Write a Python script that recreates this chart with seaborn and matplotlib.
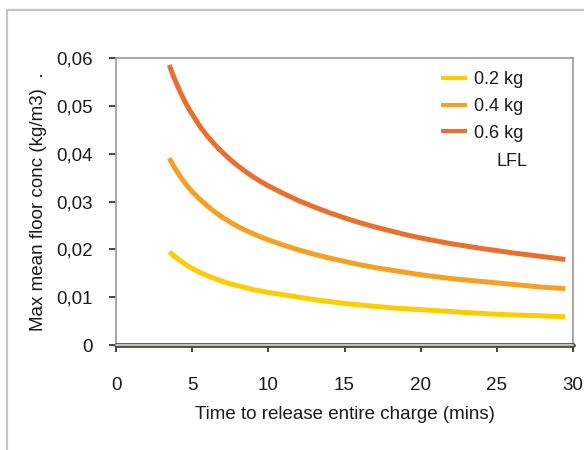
import matplotlib
matplotlib.use("Agg")
import matplotlib.pyplot as plt
import pandas as pd
import seaborn as sns
from matplotlib.patches import Rectangle

# Release time (minutes) and resulting max mean floor concentration (kg/m3)
release_time = [3.5, 3.75, 4.0, 4.25, 4.5, 4.75, 5.0, 5.5, 6.0, 6.5, 7.0, 7.5,
                8.0, 8.5, 9.0, 9.5, 10.0, 11.0, 12.0, 13.0, 14.0, 15.0, 16.0,
                17.0, 18.0, 19.0, 20.0, 22.0, 24.0, 26.0, 28.0, 29.5]
conc_02kg = [0.0195, 0.0188, 0.0182, 0.0176, 0.0170, 0.0165, 0.0160, 0.0152,
             0.0145, 0.0139, 0.0133, 0.0128, 0.0124, 0.0120, 0.0116, 0.0113,
             0.0110, 0.0105, 0.0100, 0.0095, 0.0091, 0.0087, 0.0084, 0.0081,
             0.0078, 0.0076, 0.0074, 0.0070, 0.0066, 0.0063, 0.0061, 0.0059]
conc_04kg = [0.0391, 0.0376, 0.0363, 0.0351, 0.0340, 0.0330, 0.0321, 0.0305,
             0.0291, 0.0278, 0.0267, 0.0257, 0.0248, 0.0240, 0.0233, 0.0226,
             0.0220, 0.0209, 0.0199, 0.0190, 0.0182, 0.0175, 0.0168, 0.0162,
             0.0157, 0.0152, 0.0147, 0.0139, 0.0133, 0.0127, 0.0121, 0.0118]
conc_06kg = [0.0586, 0.0564, 0.0545, 0.0527, 0.0511, 0.0496, 0.0483, 0.0458,
             0.0437, 0.0419, 0.0403, 0.0388, 0.0375, 0.0363, 0.0352, 0.0342,
             0.0333, 0.0317, 0.0302, 0.0289, 0.0277, 0.0266, 0.0256, 0.0247,
             0.0239, 0.0231, 0.0224, 0.0212, 0.0202, 0.0193, 0.0185, 0.0179]
series_labels = ["0.2 kg", "0.4 kg", "0.6 kg"]
series_colors = ["#FFCC00", "#F5A023", "#E8702C"]
x_ticks = [0, 5, 10, 15, 20, 25, 30]
y_ticks = [0, 0.01, 0.02, 0.03, 0.04, 0.05, 0.06]
y_tick_labels = ["0", "0,01", "0,02", "0,03", "0,04", "0,05", "0,06"]

df = pd.concat([
    pd.DataFrame({"time": release_time, "conc": vals, "charge": lab})
    for vals, lab in zip([conc_02kg, conc_04kg, conc_06kg], series_labels)
])

sns.set_style("white")
plt.rcParams["font.family"] = ["Liberation Sans", "DejaVu Sans"]

fig = plt.figure(figsize=(5.84, 4.5), dpi=100)
ax = fig.add_axes([116 / 584, 1 - 345 / 450, (573 - 116) / 584, (345 - 58.3) / 450])

# outer chart frame
fig.patches.append(Rectangle((7 / 584, -0.1), 1.2, 1 - 10 / 450 + 0.1,
                             transform=fig.transFigure, fill=False,
                             edgecolor="#c4c4c4", linewidth=1.6, zorder=0))

sns.lineplot(data=df, x="time", y="conc", hue="charge",
             palette=dict(zip(series_labels, series_colors)),
             linewidth=3.6, ax=ax, legend=False, zorder=3,
             solid_capstyle="butt", solid_joinstyle="round")

ax.set_xlim(0, 30)
ax.set_ylim(0, 0.06)
ax.set_xticks(x_ticks)
ax.set_xticklabels([str(t) for t in x_ticks])
ax.set_yticks(y_ticks)
ax.set_yticklabels(y_tick_labels)

for side in ["left", "top", "right"]:
    ax.spines[side].set_color("#a0a0a0")
    ax.spines[side].set_linewidth(1.3)
ax.spines["bottom"].set_visible(False)

# zero line drawn as an outlined bar
ax.axhline(0, color="#4a4a40", linewidth=3.4, zorder=4, clip_on=False)
ax.axhline(0, color="#c8c8c0", linewidth=1.4, zorder=5, clip_on=False)

ax.tick_params(axis="x", direction="out", length=5, width=1.2, color="#222222",
               pad=18, labelsize=13.5, labelcolor="#1a1a1a", bottom=True)
ax.tick_params(axis="y", direction="out", length=5, width=1.2, color="#222222",
               pad=12, labelsize=13.5, labelcolor="#1a1a1a", left=True)

ax.set_xlabel("Time to release entire charge (mins)", fontsize=13.5,
              color="#1a1a1a", labelpad=9)
ax.set_ylabel("Max mean floor conc (kg/m3)  .", fontsize=13.5,
              color="#1a1a1a", labelpad=6)

handles = [plt.Line2D([], [], color=c, linewidth=3, solid_capstyle="butt")
           for c in series_colors]
leg = ax.legend(handles, series_labels, loc="upper left",
                bbox_to_anchor=(0.6834, 1.0), frameon=False, fontsize=13,
                handlelength=1.45, handletextpad=0.4, labelspacing=0.55,
                borderaxespad=0.3)
for t in leg.get_texts():
    t.set_color("#1a1a1a")
ax.text(497 / 584, 1 - 161 / 450, "LFL", transform=fig.transFigure,
        fontsize=13, color="#1a1a1a", va="center", ha="left")

fig.savefig("out.png", dpi=100)
